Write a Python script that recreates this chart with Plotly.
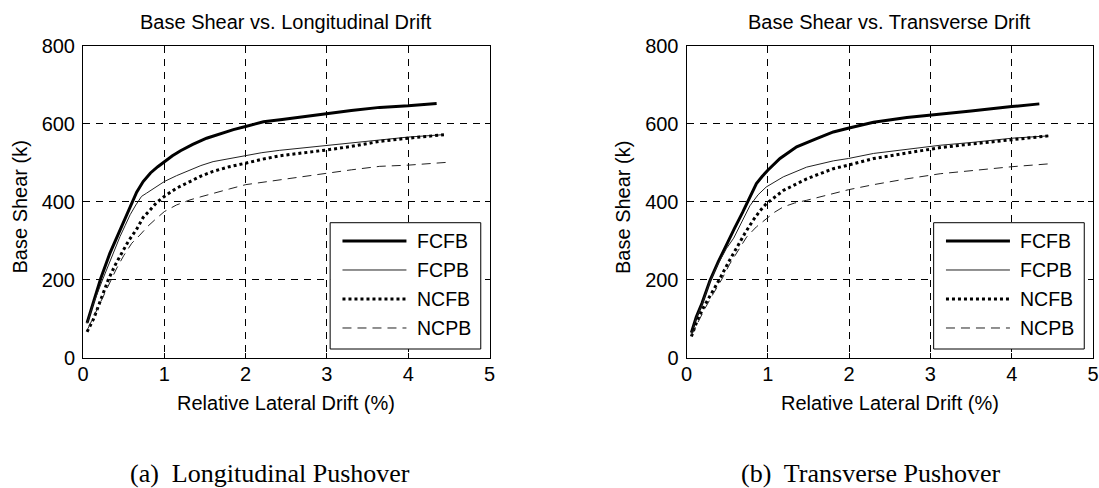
import plotly.graph_objects as go

# Pushover curves: relative lateral drift (%) vs base shear (kips)
series_names = ["FCFB", "FCPB", "NCFB", "NCPB"]

# Longitudinal pushover
long_fcfb_drift = [0.05, 0.12, 0.22, 0.33, 0.42, 0.50, 0.58, 0.66, 0.74, 0.83, 0.92, 1.0, 1.1, 1.2,
                   1.35, 1.52, 1.7, 1.85, 2.0, 2.22, 2.45, 2.7, 3.0, 3.3, 3.65, 4.0, 4.35]
long_fcfb_shear = [90, 140, 205, 268, 312, 350, 390, 425, 452, 474, 490, 503, 518, 531,
                   547, 563, 576, 585, 593, 605, 611, 618, 627, 634, 642, 646, 652]

long_fcpb_drift = [0.05, 0.12, 0.24, 0.35, 0.455, 0.52, 0.58, 0.65, 0.72, 0.78, 0.824, 0.9, 1.0, 1.15,
                   1.316, 1.45, 1.6, 1.8, 2.0, 2.2, 2.42, 2.7, 3.0, 3.3, 3.65, 4.0, 4.43]
long_fcpb_shear = [88, 135, 200, 258, 311, 340, 367, 392, 414, 422, 428, 440, 452, 467,
                   482, 493, 503, 511, 518, 526, 532, 538, 546, 551, 559, 566, 572]

long_ncfb_drift = [0.05, 0.13, 0.22, 0.31, 0.40, 0.48, 0.56, 0.66, 0.74, 0.82, 0.9, 1.0, 1.15,
                   1.316, 1.45, 1.6, 1.8, 2.0, 2.2, 2.42, 2.7, 3.0, 3.3, 3.65, 4.0, 4.44]
long_ncfb_shear = [67, 100, 150, 200, 240, 270, 300, 330, 360, 378, 397, 414, 435,
                   452, 466, 478, 490, 499, 509, 518, 525, 533, 542, 555, 563, 572]

long_ncpb_drift = [0.06, 0.14, 0.23, 0.32, 0.41, 0.5, 0.6, 0.7, 0.8, 0.9, 1.0, 1.15, 1.316,
                   1.45, 1.6, 1.8, 2.0, 2.2, 2.42, 2.7, 3.0, 3.3, 3.65, 4.0, 4.53]
long_ncpb_shear = [75, 110, 150, 190, 228, 262, 294, 315, 338, 357, 375, 392, 405,
                   413, 422, 433, 444, 450, 456, 464, 474, 482, 491, 494, 502]

# Transverse pushover
tran_fcfb_drift = [0.06, 0.12, 0.19, 0.29, 0.39, 0.49, 0.59, 0.69, 0.78, 0.86, 0.93, 1.0, 1.15,
                   1.355, 1.6, 1.806, 2.0, 2.3, 2.71, 3.12, 3.5, 4.0, 4.34]
tran_fcfb_shear = [65, 105, 140, 199, 246, 291, 332, 373, 412, 447, 465, 481, 511,
                   541, 562, 579, 589, 604, 616, 624, 633, 644, 651]

tran_fcpb_drift = [0.06, 0.12, 0.19, 0.29, 0.39, 0.49, 0.58, 0.68, 0.78, 0.88, 0.98, 1.19,
                   1.478, 1.806, 1.99, 2.3, 2.71, 3.12, 3.5, 4.0, 4.45]
tran_fcpb_shear = [63, 102, 137, 197, 242, 280, 307, 350, 390, 418, 438, 464,
                   489, 505, 511, 524, 535, 545, 552, 563, 569]

tran_ncfb_drift = [0.06, 0.13, 0.21, 0.31, 0.41, 0.51, 0.62, 0.72, 0.82, 0.9, 0.98, 1.19,
                   1.478, 1.806, 1.99, 2.3, 2.71, 3.12, 3.5, 4.0, 4.45]
tran_ncfb_shear = [55, 95, 130, 165, 203, 243, 285, 320, 353, 376, 395, 429,
                   459, 485, 494, 511, 525, 539, 548, 560, 569]

tran_ncpb_drift = [0.06, 0.14, 0.23, 0.33, 0.43, 0.53, 0.63, 0.74, 0.86, 0.98, 1.08, 1.19,
                   1.33, 1.478, 1.7, 1.99, 2.3, 2.71, 3.12, 3.5, 4.0, 4.5]
tran_ncpb_shear = [58, 92, 128, 165, 200, 240, 275, 310, 336, 357, 373, 387,
                   397, 404, 416, 431, 444, 459, 472, 480, 490, 498]

x_ticks = [0, 1, 2, 3, 4, 5]
y_ticks = [0, 200, 400, 600, 800]

plot_titles = ["Base Shear vs. Longitudinal Drift", "Base Shear vs. Transverse Drift"]
captions = ["(a)  Longitudinal Pushover", "(b)  Transverse Pushover"]
x_title = "Relative Lateral Drift (%)"
y_title = "Base Shear (k)"

line_styles = {
    "FCFB": dict(color="black", width=3),
    "FCPB": dict(color="#222222", width=1),
    "NCFB": dict(color="black", width=3, dash="dot"),
    "NCPB": dict(color="#222222", width=1, dash="9px,6px"),
}

panels = [
    ("x", "y", [(long_fcfb_drift, long_fcfb_shear), (long_fcpb_drift, long_fcpb_shear),
                (long_ncfb_drift, long_ncfb_shear), (long_ncpb_drift, long_ncpb_shear)]),
    ("x2", "y2", [(tran_fcfb_drift, tran_fcfb_shear), (tran_fcpb_drift, tran_fcpb_shear),
                  (tran_ncfb_drift, tran_ncfb_shear), (tran_ncpb_drift, tran_ncpb_shear)]),
]

W, H = 1099, 488
SANS = "Liberation Sans, Arial, Helvetica, sans-serif"
SERIF = "Liberation Serif, Times New Roman, serif"

fig = go.Figure()
for xa, ya, curves in panels:
    for name, (dx, vy) in zip(series_names, curves):
        fig.add_trace(go.Scatter(x=dx, y=vy, mode="lines", name=name,
                                 line=line_styles[name], xaxis=xa, yaxis=ya,
                                 showlegend=False))

x_domains = [[83 / W, 489.5 / W], [686.5 / W, 1093 / W]]
y_domain = [1 - 358 / H, 1 - 45.7 / H]

axis_common = dict(
    showline=True, linecolor="black", linewidth=1, mirror="ticks",
    ticks="inside", ticklen=5, tickwidth=1, tickcolor="black",
    showgrid=True, gridcolor="black", gridwidth=1, griddash="7px,6px",
    zeroline=False, automargin=False,
    tickfont=dict(family=SANS, size=20, color="black"),
)

layout = dict(
    width=W, height=H, margin=dict(l=0, r=0, t=0, b=0, pad=0, autoexpand=False),
    paper_bgcolor="white", plot_bgcolor="white", showlegend=False,
    font=dict(family=SANS, color="black"),
)
for i, (xa, ya) in enumerate([("x", "y"), ("x2", "y2")]):
    xk = "xaxis" if i == 0 else "xaxis2"
    yk = "yaxis" if i == 0 else "yaxis2"
    layout[xk] = dict(axis_common, domain=x_domains[i], range=[0, 5], tickvals=x_ticks,
                      anchor=ya, ticklabelstandoff=-2)
    layout[yk] = dict(axis_common, domain=y_domain, range=[0, 800], tickvals=y_ticks,
                      anchor=xa, ticklabelstandoff=3)
fig.update_layout(**layout)

annotations = []
shapes = []
for i, (xa, ya) in enumerate([("x", "y"), ("x2", "y2")]):
    x0, x1 = x_domains[i]
    xc = (x0 + x1) / 2
    # panel title
    annotations.append(dict(text=plot_titles[i], x=xc, y=1 - 22 / H, xref="paper", yref="paper",
                            xanchor="center", yanchor="middle", showarrow=False,
                            font=dict(family=SANS, size=20, color="black")))
    # x-axis title
    annotations.append(dict(text=x_title, x=xc, y=1 - 402.5 / H, xref="paper", yref="paper",
                            xanchor="center", yanchor="middle", showarrow=False,
                            font=dict(family=SANS, size=20, color="black")))
    # y-axis title
    annotations.append(dict(text=y_title, x=(x0 * W - 63) / W, y=1 - 207.5 / H, xref="paper",
                            yref="paper", xanchor="center", yanchor="middle", textangle=-90,
                            showarrow=False, font=dict(family=SANS, size=20, color="black")))
    # caption below the panel
    annotations.append(dict(text=captions[i], x=(270 if i == 0 else 870.5) / W, y=1 - 473 / H,
                            xref="paper", yref="paper", xanchor="center", yanchor="middle",
                            showarrow=False, font=dict(family=SERIF, size=26, color="black")))

    # legend box drawn inside each panel
    xd, yd = f"{xa} domain", f"{ya} domain"
    shapes.append(dict(type="rect", xref=xd, yref=yd, x0=0.608, x1=0.9785, y0=0.0288, y1=0.4332,
                       fillcolor="white", line=dict(color="black", width=1), layer="above"))
    rows = [0.3746, 0.2818, 0.1889, 0.0961]
    for name, ry in zip(series_names, rows):
        shapes.append(dict(type="line", xref=xd, yref=yd, x0=0.6383, x1=0.7957, y0=ry, y1=ry,
                           line=line_styles[name], layer="above"))
        annotations.append(dict(text=name, x=0.8159, y=ry, xref=xd, yref=yd, xanchor="left",
                                yanchor="middle", showarrow=False,
                                font=dict(family=SANS, size=19.5, color="black")))

fig.update_layout(annotations=annotations, shapes=shapes)
fig.write_html("out.html")
